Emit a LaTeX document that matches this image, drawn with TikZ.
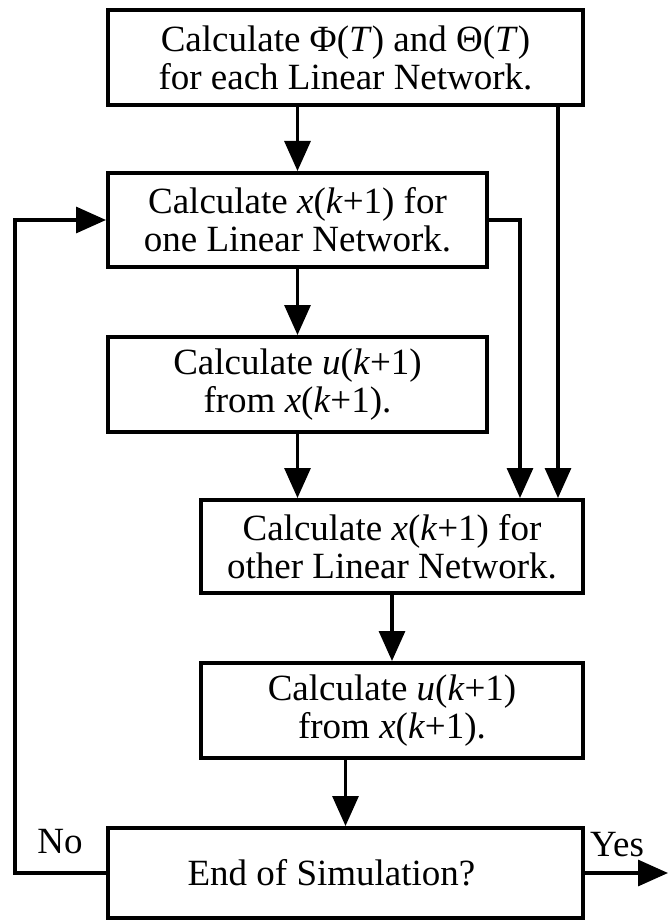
\documentclass[tikz,border=0pt]{standalone}
\usepackage{fontspec}
\setmainfont{Liberation Serif}
\usetikzlibrary{arrows.meta,calc}
\begin{document}
\begin{tikzpicture}[x=1pt,y=-1pt,
  stepbox/.style={draw,line width=4pt,rectangle,inner sep=0pt,align=center,
    font=\fontsize{37}{38}\selectfont},
  arr/.style={line width=3.2pt,-{Triangle[length=30pt,width=26pt]}},
  lbl/.style={font=\fontsize{37}{38}\selectfont,inner sep=0pt}]
\useasboundingbox (0,0) rectangle (668,920);
\node[stepbox,minimum width=475pt,minimum height=95pt] (b1) at (345.5,57.5)
  {Calculate Φ(\textit{T}) and Θ(\textit{T})\\for each Linear Network.};
\node[stepbox,minimum width=379pt,minimum height=94pt] (b2) at (297.5,220)
  {Calculate \textit{x}(\textit{k}+1) for\\one Linear Network.};
\node[stepbox,minimum width=379pt,minimum height=95pt] (b3) at (297.5,384.5)
  {Calculate \textit{u}(\textit{k}+1)\\from \textit{x}(\textit{k}+1).};
\node[stepbox,minimum width=382pt,minimum height=93pt] (b4) at (392,546.5)
  {Calculate \textit{x}(\textit{k}+1) for\\other Linear Network.};
\node[stepbox,minimum width=382pt,minimum height=95pt] (b5) at (392,710.5)
  {Calculate \textit{u}(\textit{k}+1)\\from \textit{x}(\textit{k}+1).};
\node[stepbox,minimum width=475pt,minimum height=90pt] (b6) at (345.5,873)
  {End of Simulation?\hspace*{28pt}};
\coordinate (rA) at (558,0);
\coordinate (rB) at (520,0);
\coordinate (lL) at (15,0);
\coordinate (yesEnd) at (668,873);
\node[lbl] (no) at (60,842) {No};
\node[lbl] (yes) at (617,845) {Yes};
% arrows
\draw[arr] (b1.south -| b2.north) -- (b2.north);
\draw[arr] (b1.south -| rA) -- (b4.north -| rA);
\draw[arr] (b2.east) -| (b4.north -| rB);
\draw[arr] (b2.south) -- (b3.north);
\draw[arr] (b3.south) -- (b3.south |- b4.north);
\draw[arr] (b4.south) -- (b5.north);
\draw[arr] (b5.south -| b6.north) -- (b6.north);
\draw[arr] (b6.west) -- (b6.west -| lL) -- (b2.west -| lL) -- (b2.west);
\draw[arr] (b6.east) -- (yesEnd);
\end{tikzpicture}
\end{document}
